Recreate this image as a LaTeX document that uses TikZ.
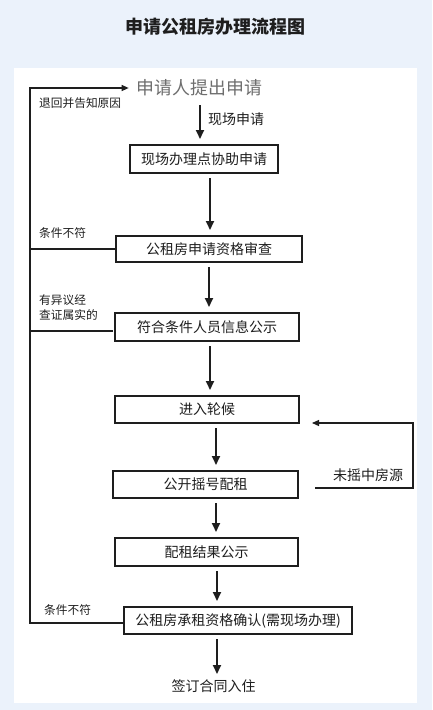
\documentclass[tikz,border=0pt]{standalone}
\usepackage{fontspec}
\setmainfont{Noto Sans CJK SC}
\usepackage{tikz}
\usetikzlibrary{arrows.meta,positioning,calc}
\definecolor{pagebg}{HTML}{EBF2FB}
\definecolor{ink}{HTML}{1E1E1E}
\definecolor{soft}{HTML}{6E6E6E}
\newcommand{\setfs}[2]{\fontsize{#1}{#2}\selectfont}

\begin{document}
\begin{tikzpicture}[x=1pt, y=-1pt, font=\setfs{14pt}{17pt}, text=ink]
\tikzstyle{stage}=[draw=ink, line width=1.1pt, minimum height=27pt, inner sep=2pt, outer sep=0pt]
\tikzstyle{note}=[font=\setfs{11.7pt}{15pt}, anchor=west, inner sep=0pt, align=left]
\tikzstyle{down}=[draw=ink, line width=1.8pt, -{Triangle[length=9pt,width=8pt]}, shorten <=5pt, shorten >=6pt]
\tikzstyle{back}=[draw=ink, line width=1.1pt]
\useasboundingbox (0,0) rectangle (432,710);
\fill[pagebg] (0,0) rectangle (432,710);
\fill[white] (14,68) rectangle (417,703);
\node[font=\setfs{18pt}{20pt}\bfseries] (title) at (215,27) {申请公租房办理流程图};
% main column
\node[font=\setfs{17.9pt}{20pt}, text=soft, inner sep=4pt] (s0) at (199.5,88) {申请人提出申请};
\node[stage, minimum width=148pt, minimum height=28pt] (s1) at (204,159) {现场办理点协助申请};
\node[stage, minimum width=186pt, minimum height=26pt, below=63pt of s1, xshift=5pt] (s2) {公租房申请资格审查};
\node[stage, minimum width=184pt, minimum height=28pt, below=51pt of s2, xshift=-2pt] (s3) {符合条件人员信息公示};
\node[stage, minimum width=184pt, below=55pt of s3] (s4) {进入轮候};
\node[stage, minimum width=185pt, below=48pt of s4, xshift=-1.5pt] (s5) {公开摇号配租};
\node[stage, minimum width=183pt, minimum height=28pt, below=40pt of s5, xshift=1pt] (s6) {配租结果公示};
\node[stage, minimum width=228pt, below=41pt of s6, xshift=31.5pt] (s7) {公租房承租资格确认(需现场办理)};
\node[inner sep=0pt, outer sep=0pt, below=46pt of s7, xshift=-24.5pt] (s8) {签订合同入住};
\foreach \a/\b/\dx in {s0/s1/0.5, s1/s2/6, s2/s3/0, s3/s4/3, s4/s5/9, s5/s6/10.5, s6/s7/10.5, s7/s8/-21}{
  \draw[down] ($(\a.south)+(\dx pt,0)$) -- ($(\a.south |- \b.north)+(\dx pt,0)$);
}
\node[anchor=west, inner sep=0pt] (n0) at (208,119) {现场申请};
% return paths
\coordinate (lrail) at (30,88);
\path (s4.south east) ++(114pt,0) coordinate (rrail);
\draw[back, -{Triangle[length=7pt,width=6pt]}, shorten >=4pt] ([yshift=-2.5pt]s7.west) -| (lrail) -- (s0.west);
\draw[back] (s2.west) -| (lrail);
\draw[back] ([xshift=-2pt,yshift=-4pt]s3.west) -| (lrail);
\draw[back, -{Triangle[length=7pt,width=6pt]}] ([xshift=17pt,yshift=-3.5pt]s5.east) -| (rrail) -- ([xshift=13pt]s4.south east);
\node[note] (n1) at (39,103) {退回并告知原因};
\node[note] (n2) at (39,233) {条件不符};
\node[note] (n3) at (39,307.5) {有异议经\\查证属实的};
\node[note] (n4) at (44,610) {条件不符};
\node[inner sep=0pt] (n5) at (368,475) {未摇中房源};
\end{tikzpicture}
\end{document}
